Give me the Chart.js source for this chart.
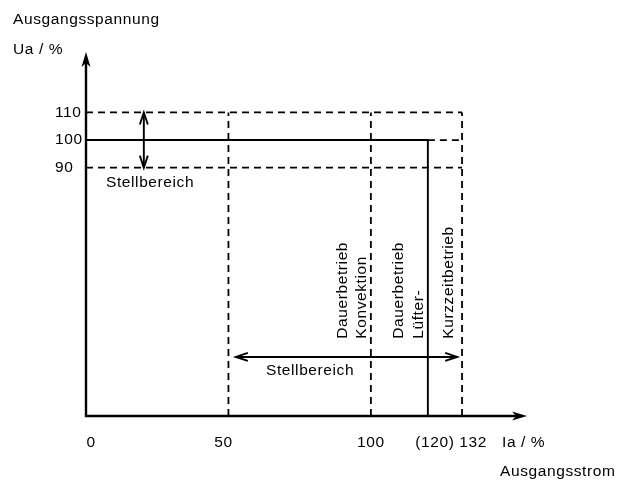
<!DOCTYPE html>
<html>
<head>
<meta charset="utf-8">
<script src="https://cdn.jsdelivr.net/npm/chart.js@4"></script>
<style>
  html, body { margin: 0; padding: 0; background: #fff; }
  #wrap { width: 622px; height: 482px; }
</style>
</head>
<body>
<div id="wrap"><canvas id="diagram" width="622" height="482"></canvas></div>
<script>
// Axis extents (in %), ticks and labels
const xMax = 154.8;
const yMax = 131.9;
const xTicks = [0, 50, 100, 120, 132];
const xTickLabels = ['0', '50', '100', '(120)', '132'];
const yTicks = [110, 100, 90];
const yTickLabels = ['110', '100', '90'];

// Output characteristic (solid): Ua = 100 % up to Ia = 120 %, then drop
const curveX = [0, 120, 120];
const curveY = [100, 100, 0];

// Limits (dashed)
const voltageLimits = [90, 110];
const limitEndX = 132;
const currentLimits = [50, 100, 132];
const currentLimitTop = 110;
const extensionX = [120, 132];   // dashed continuation of Ua = 100 %
const extensionY = 100;

// Adjustment ranges (double arrows)
const voltageRangeX = 20.3;
const voltageRange = [90, 110];
const currentRangeY = 21.4;
const currentRange = [52.6, 130.3];

const FONT = '15.5px "Liberation Sans", Arial, sans-serif';

function pts(xs, ys) {
    return xs.map((v, i) => ({ x: v, y: ys[i] }));
}

const solid = { showLine: true, borderColor: '#000', borderWidth: 1.9, pointRadius: 0, fill: false, clip: false, tension: 0 };
const dashed = Object.assign({}, solid, { borderWidth: 1.8, borderDash: [7, 5] });

const datasets = [];
voltageLimits.forEach(v => datasets.push(Object.assign({ data: pts([0, limitEndX], [v, v]) }, dashed)));
currentLimits.forEach(v => datasets.push(Object.assign({ data: pts([v, v], [0, currentLimitTop]) }, dashed)));
datasets.push(Object.assign({ data: pts(extensionX, [extensionY, extensionY]) }, dashed));
datasets.push(Object.assign({ data: pts(curveX, curveY) }, solid));
datasets.push(Object.assign({ data: pts([voltageRangeX, voltageRangeX], voltageRange) }, solid));
datasets.push(Object.assign({ data: pts(currentRange, [currentRangeY, currentRangeY]) }, solid));

function openHead(ctx, tx, ty, dir, len, half) {
    // dir: unit vector pointing toward the tip
    const bx = tx - dir[0] * len, by = ty - dir[1] * len;
    const nx = -dir[1], ny = dir[0];
    ctx.beginPath();
    ctx.moveTo(bx + nx * half, by + ny * half);
    ctx.lineTo(tx, ty);
    ctx.lineTo(bx - nx * half, by - ny * half);
    ctx.stroke();
}

function solidHead(ctx, tx, ty, dir) {
    const nx = -dir[1], ny = dir[0];
    const len = 15, notch = 11, half = 4.5;
    ctx.beginPath();
    ctx.moveTo(tx, ty);
    ctx.lineTo(tx - dir[0] * len + nx * half, ty - dir[1] * len + ny * half);
    ctx.lineTo(tx - dir[0] * notch, ty - dir[1] * notch);
    ctx.lineTo(tx - dir[0] * len - nx * half, ty - dir[1] * len - ny * half);
    ctx.closePath();
    ctx.fill();
}

const annotate = {
    id: 'annotate',
    afterDatasetsDraw(chart) {
        const { ctx, scales: { x, y } } = chart;
        ctx.save();
        ctx.strokeStyle = '#000';
        ctx.fillStyle = '#000';

        // axes with arrows
        const x0 = x.getPixelForValue(0), y0 = y.getPixelForValue(0);
        const xEnd = x.getPixelForValue(xMax), yEnd = y.getPixelForValue(yMax);
        ctx.lineWidth = 2.4;
        ctx.beginPath();
        ctx.moveTo(x0, yEnd + 8);
        ctx.lineTo(x0, y0);
        ctx.lineTo(xEnd - 8, y0);
        ctx.stroke();
        solidHead(ctx, x0, yEnd, [0, -1]);
        solidHead(ctx, xEnd, y0, [1, 0]);

        // double arrow heads
        ctx.lineWidth = 1.9;
        const vx = x.getPixelForValue(voltageRangeX);
        openHead(ctx, vx, y.getPixelForValue(voltageRange[1]), [0, -1], 12, 4);
        openHead(ctx, vx, y.getPixelForValue(voltageRange[0]), [0, 1], 12, 4);
        const hy = y.getPixelForValue(currentRangeY);
        openHead(ctx, x.getPixelForValue(currentRange[0]), hy, [-1, 0], 12, 4);
        openHead(ctx, x.getPixelForValue(currentRange[1]), hy, [1, 0], 12, 4);

        ctx.font = FONT;
        ctx.letterSpacing = '0.6px';
        ctx.fillStyle = '#000';

        // y tick labels
        ctx.textAlign = 'left';
        ctx.textBaseline = 'middle';
        yTicks.forEach((v, i) => ctx.fillText(yTickLabels[i], 55, y.getPixelForValue(v)));

        // x tick labels
        const nudge = [5, -5, 0, 7, 11];
        ctx.textAlign = 'center';
        ctx.textBaseline = 'alphabetic';
        xTicks.forEach((v, i) => ctx.fillText(xTickLabels[i], x.getPixelForValue(v) + nudge[i], 447));

        // axis titles
        ctx.textAlign = 'left';
        ctx.fillText('Ausgangsspannung', 13, 24);
        ctx.fillText('Ua / %', 13, 54);
        ctx.fillText('Ia / %', 502, 447);
        ctx.fillText('Ausgangsstrom', 500, 476);

        // range labels
        ctx.fillText('Stellbereich', 106, 187);
        ctx.fillText('Stellbereich', 266, 375);

        // operating mode labels (rotated)
        const rotated = [
            ['Dauerbetrieb', 91.6], ['Konvektion', 98.4],
            ['Dauerbetrieb', 111.2], ['Lüfter-', 118.2],
            ['Kurzzeitbetrieb', 128.7]
        ];
        const by = y.getPixelForValue(28.0);
        rotated.forEach(([t, v]) => {
            ctx.save();
            ctx.translate(x.getPixelForValue(v), by);
            ctx.rotate(-Math.PI / 2);
            ctx.textAlign = 'left';
            ctx.textBaseline = 'alphabetic';
            ctx.fillText(t, 0, 0);
            ctx.restore();
        });
        ctx.restore();
    }
};

new Chart(document.getElementById('diagram'), {
    type: 'scatter',
    data: { datasets: datasets },
    options: {
        responsive: false,
        animation: false,
        events: [],
        layout: { padding: { left: 86, right: 95, top: 52, bottom: 66 } },
        plugins: { legend: { display: false }, tooltip: { enabled: false } },
        scales: {
            x: { type: 'linear', min: 0, max: xMax, display: false },
            y: { type: 'linear', min: 0, max: yMax, display: false }
        }
    },
    plugins: [annotate]
});
</script>
</body>
</html>
